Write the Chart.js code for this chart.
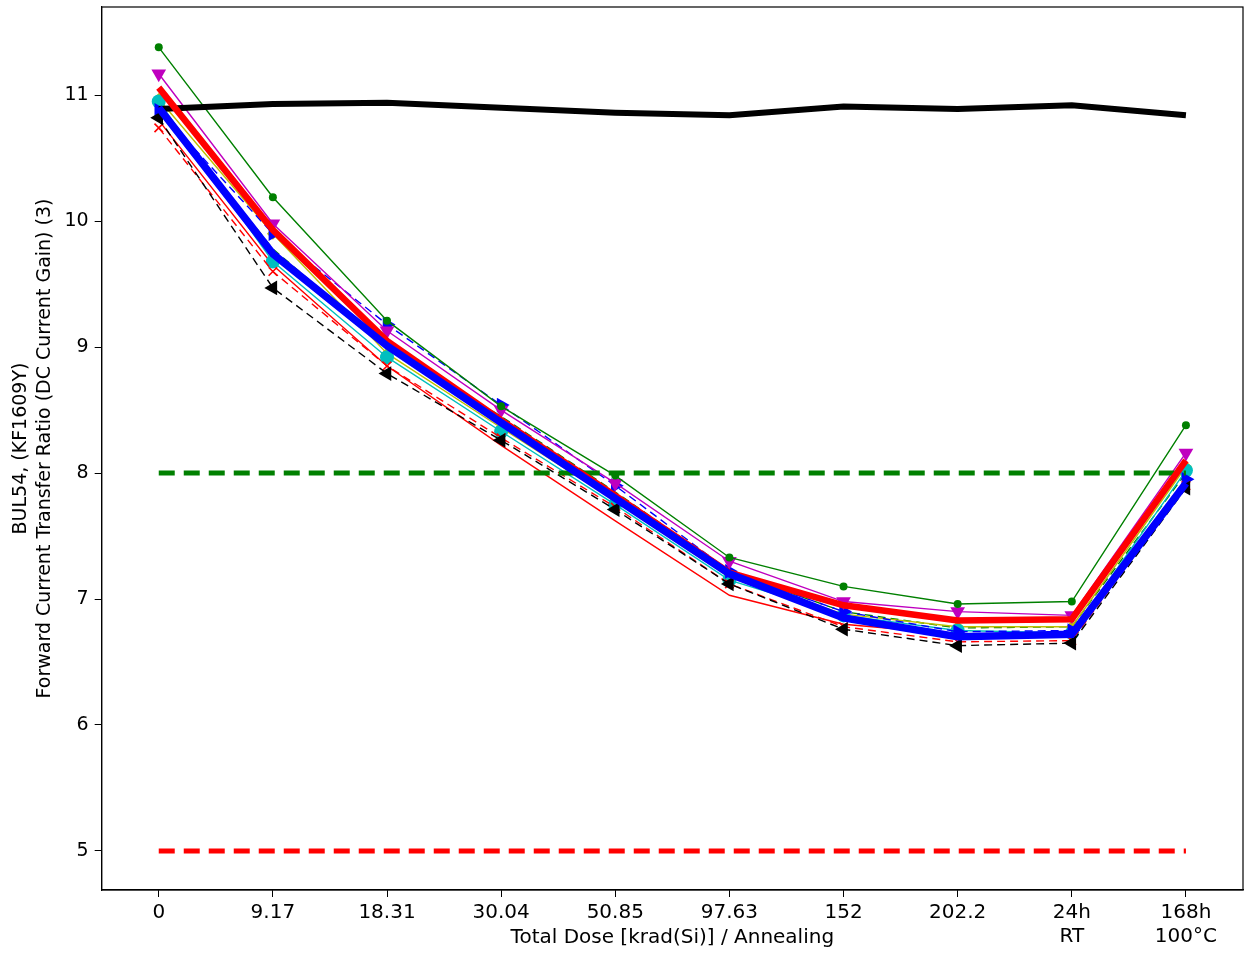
<!DOCTYPE html>
<html>
<head>
<meta charset="utf-8">
<script src="https://cdn.jsdelivr.net/npm/chart.js@4/dist/chart.umd.min.js"></script>
<style>
  html, body { margin: 0; padding: 0; background: #fff; }
</style>
</head>
<body>
<canvas id="gainChart" width="1248" height="954"></canvas>
<script>
// x categories (dose steps, then annealing)
var doses = ["0", "9.17", "18.31", "30.04", "50.85", "97.63", "152", "202.2", ["24h", "RT"], ["168h", "100°C"]];
var yTicks = [5, 6, 7, 8, 9, 10, 11];

// control device
var control = [10.89, 10.93, 10.94, 10.90, 10.86, 10.84, 10.91, 10.89, 10.92, 10.84];
// spec limits
var upperLimit = [8, 8, 8, 8, 8, 8, 8, 8, 8, 8];
var lowerLimit = [5, 5, 5, 5, 5, 5, 5, 5, 5, 5];

// irradiated parts
var dev1 = [11.38, 10.19, 9.21, 8.53, 7.98, 7.33, 7.10, 6.96, 6.98, 8.38];
var dev2 = [11.17, 9.98, 9.13, 8.50, 7.92, 7.30, 6.98, 6.90, 6.87, 8.16];
var dev3 = [10.95, 9.68, 8.92, 8.33, 7.75, 7.15, 6.87, 6.75, 6.73, 8.02];
var dev4 = [10.97, 9.90, 8.95, 8.36, 7.78, 7.18, 6.88, 6.78, 6.78, 8.05];
var dev5 = [10.82, 9.47, 8.79, 8.26, 7.71, 7.12, 6.76, 6.63, 6.65, 7.88];
var dev6 = [10.74, 9.60, 8.85, 8.28, 7.73, 7.12, 6.78, 6.66, 6.67, 7.90];
var dev7 = [10.88, 9.90, 9.18, 8.54, 7.90, 7.22, 6.90, 6.74, 6.75, 7.95];
var dev8 = [10.90, 9.78, 9.00, 8.45, 7.85, 7.22, 6.90, 6.77, 6.78, 8.00];
var dev9 = [10.80, 9.65, 8.85, 8.22, 7.62, 7.03, 6.80, 6.72, 6.72, 7.95];

// averages
var meanRed = [11.06, 9.93, 9.05, 8.42, 7.82, 7.21, 6.95, 6.83, 6.84, 8.10];
var meanBlue = [10.90, 9.74, 9.01, 8.40, 7.80, 7.20, 6.85, 6.70, 6.72, 7.92];

function thin(data, color, style, radius, dash, rot, ord) {
  return {
    data: data, borderColor: color, backgroundColor: color, borderWidth: 1.4,
    borderDash: dash || [], pointStyle: style, pointRadius: radius,
    pointRotation: rot || 0, pointBorderWidth: style === 'crossRot' ? 1.6 : 0,
    pointBorderColor: color, order: ord, tension: 0
  };
}
function thick(data, color, width, dash, ord) {
  return {
    data: data, borderColor: color, borderWidth: width, borderDash: dash || [],
    pointRadius: 0, order: ord, tension: 0, fill: false
  };
}

var framePlugin = {
  id: 'frame',
  afterDraw: function(chart) {
    var a = chart.chartArea, c = chart.ctx;
    c.save();
    c.strokeStyle = '#000';
    c.lineWidth = 1.2;
    c.strokeRect(a.left, a.top, a.right - a.left, a.bottom - a.top);
    c.restore();
  }
};

Chart.defaults.font.family = "'DejaVu Sans', sans-serif";
Chart.defaults.color = '#000';

new Chart(document.getElementById('gainChart'), {
  type: 'line',
  data: {
    labels: doses,
    datasets: [
      thick(control, '#000000', 6, null, 5),
      thick(upperLimit, '#008000', 5, [16, 9], 4),
      thick(lowerLimit, '#ff0000', 5, [16, 9], 4),
      thick(meanBlue, '#0000ff', 7.5, null, 1),
      thick(meanRed, '#ff0000', 6.5, null, 2),
      thin(dev1, '#008000', 'circle', 4, null, 0, 10),
      thin(dev2, '#bf00bf', 'triangle', 8.5, null, 180, 10),
      thin(dev3, '#00bfbf', 'circle', 7, null, 0, 11),
      thin(dev4, '#bfbf00', 'rectRot', 6, null, 0, 11),
      thin(dev5, '#000000', 'triangle', 8.5, [8, 5], 270, 10),
      thin(dev6, '#ff0000', 'crossRot', 6, [8, 5], 0, 10),
      thin(dev7, '#0000ff', 'triangle', 8.5, [8, 5], 90, 10),
      thin(dev8, '#008000', 'star', 5, [8, 5], 0, 11),
      thin(dev9, '#ff0000', false, 0, null, 0, 11)
    ]
  },
  options: {
    responsive: false,
    animation: false,
    layout: { autoPadding: false, padding: { top: 7, right: 5, left: 9, bottom: 4 } },
    plugins: { legend: { display: false }, tooltip: { enabled: false } },
    scales: {
      x: {
        offset: true,
        grid: { drawOnChartArea: false, drawTicks: true, tickLength: 7, color: '#000' },
        border: { display: true, color: '#000', width: 1.2 },
        ticks: { font: { size: 20 }, padding: 4, maxRotation: 0, autoSkip: false },
        title: {
          display: true, text: 'Total Dose [krad(Si)] / Annealing',
          font: { size: 20 }, padding: { top: -27, bottom: 0 }
        }
      },
      y: {
        min: 4.69, max: 11.70,
        afterBuildTicks: function(scale) {
          scale.ticks = yTicks.map(function(v) { return { value: v }; });
        },
        afterFit: function(scale) {
          // ticks never sit on the top edge, no label overhang needed
          scale.paddingTop = 0;
        },
        grid: { drawOnChartArea: false, drawTicks: true, tickLength: 7, color: '#000' },
        border: { display: true, color: '#000', width: 1.2 },
        ticks: { font: { size: 19 }, padding: 6 },
        title: {
          display: true,
          text: ['BUL54, (KF1609Y)', 'Forward Current Transfer Ratio (DC Current Gain) (3)'],
          font: { size: 19, lineHeight: 1.25 }, padding: { top: 0, bottom: 2 }
        }
      }
    }
  },
  plugins: [framePlugin]
});
</script>
</body>
</html>
